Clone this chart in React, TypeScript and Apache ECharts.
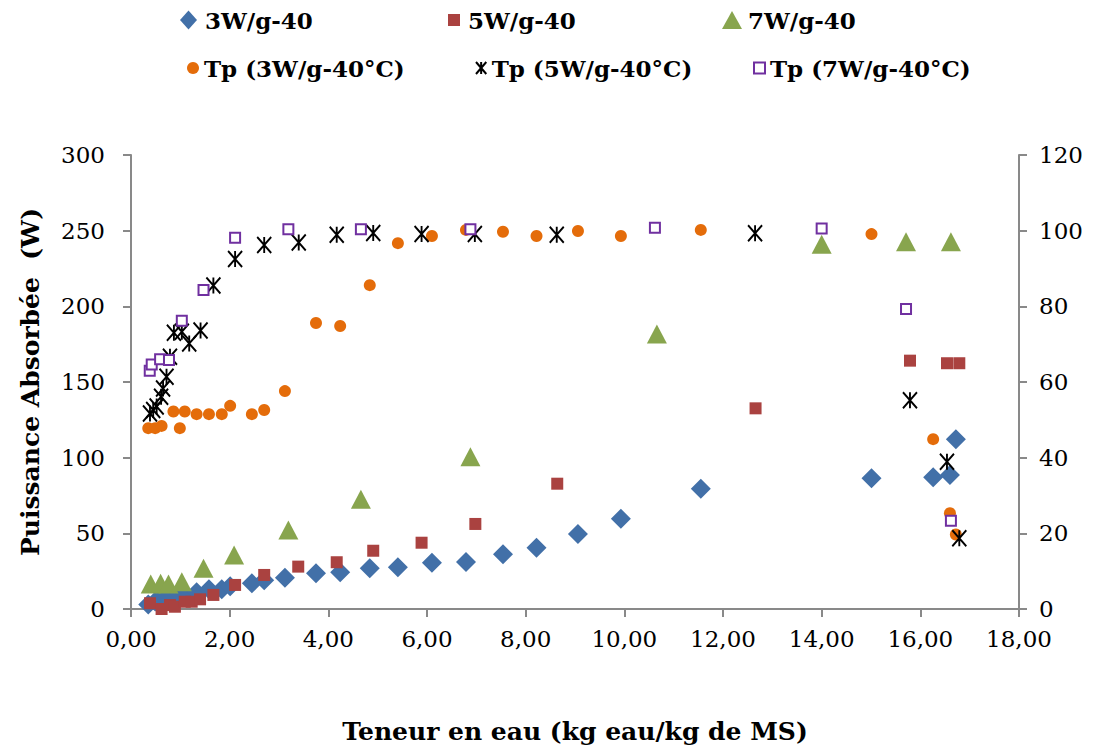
import React, { useEffect, useRef } from "react";
import * as echarts from "echarts";

// ---- Data ----
// 3W/g-40 : puissance absorbée (W) vs teneur en eau
const p3W: [number, number][] = [
  [0.35, 3], [0.49, 5], [0.62, 7], [0.86, 9], [0.99, 10], [1.09, 10],
  [1.33, 11], [1.58, 13], [1.84, 13], [2.01, 15], [2.45, 17], [2.70, 19],
  [3.12, 20.7], [3.75, 23.6], [4.24, 24.3], [4.84, 26.9], [5.41, 27.6],
  [6.10, 30.6], [6.79, 31], [7.54, 36.2], [8.22, 40.5], [9.06, 49.6],
  [9.93, 59.7], [11.55, 79.5], [15.01, 86.4], [16.26, 87], [16.60, 88.6],
  [16.72, 112.2],
];
// 5W/g-40
const p5W: [number, number][] = [
  [0.385, 3.8], [0.62, 0], [0.79, 2.6], [0.89, 1.5], [1.09, 4.8], [1.23, 4.8],
  [1.40, 6.4], [1.67, 9.3], [2.11, 15.9], [2.70, 22.5], [3.39, 28], [4.17, 30.9],
  [4.91, 38.5], [5.89, 43.8], [6.98, 56.2], [8.64, 82.8], [12.66, 132.6],
  [15.79, 164.1], [16.54, 162.4], [16.79, 162.4],
];
// 7W/g-40
const p7W: [number, number][] = [
  [0.40, 16.5], [0.60, 17], [0.76, 16.5], [1.03, 18], [1.47, 26.9], [2.09, 35.7],
  [3.19, 52.2], [4.66, 72.5], [6.88, 100.6], [10.66, 181.7], [14.0, 241],
  [15.71, 242.7], [16.62, 242.7],
];
// Tp (°C) – secondary axis
const tp3W: [number, number][] = [
  [0.35, 47.8], [0.49, 47.8], [0.62, 48.4], [0.86, 52.2], [0.99, 47.8], [1.09, 52.2],
  [1.33, 51.5], [1.58, 51.5], [1.84, 51.5], [2.01, 53.7], [2.45, 51.5], [2.70, 52.6],
  [3.12, 57.6], [3.75, 75.6], [4.24, 74.8], [4.84, 85.6], [5.41, 96.7], [6.10, 98.6],
  [6.79, 100.2], [7.54, 99.7], [8.22, 98.6], [9.06, 99.9], [9.93, 98.6], [11.55, 100.2],
  [15.01, 99.1], [16.26, 44.9], [16.60, 25.3], [16.72, 19.7],
];
const tp5W: [number, number][] = [
  [0.385, 51.7], [0.45, 52.6], [0.52, 53.5], [0.61, 56.1], [0.65, 58.3], [0.72, 61.4],
  [0.79, 66.7], [0.87, 73.0], [1.03, 73.3], [1.18, 70.2], [1.41, 73.6], [1.67, 85.5],
  [2.11, 92.5], [2.70, 96.2], [3.40, 96.9], [4.17, 98.9], [4.91, 99.4], [5.89, 99.1],
  [6.97, 99.1], [8.63, 98.9], [12.65, 99.3], [15.79, 55.2], [16.54, 38.9], [16.79, 18.7],
];
const tp7W: [number, number][] = [
  [0.38, 63.0], [0.42, 64.6], [0.59, 66.0], [0.77, 65.8], [1.03, 76.2], [1.47, 84.3],
  [2.11, 98.1], [3.19, 100.4], [4.66, 100.4], [6.88, 100.4], [10.62, 100.8],
  [14.0, 100.6], [15.71, 79.3], [16.62, 23.3],
];

const seriesNames = [
  "3W/g-40", "5W/g-40", "7W/g-40",
  "Tp (3W/g-40°C)", "Tp (5W/g-40°C)", "Tp (7W/g-40°C)",
];
const xTitle = "Teneur en eau (kg eau/kg de MS)";
const yTitle = "Puissance Absorbée  (W)";

const FONT = "DejaVu Serif";
const AXIS_COLOR = "#898989";
const STAR = "path://M0,0L12,14M12,0L0,14M6,0L6,14";

export default function App() {
  const ref = useRef<HTMLDivElement>(null);
  useEffect(() => {
    if (!ref.current) return;
    const chart = echarts.init(ref.current, undefined, { renderer: "svg" });
    const legendText = { fontFamily: FONT, fontWeight: "bold", fontSize: 23, color: "#000", lineHeight: 28 };
    const mkLegend = (name: string, left: number, top: number, w: number, h: number, pad: number) => ({
      data: [name],
      left,
      top,
      itemWidth: w,
      itemHeight: h,
      selectedMode: false,
      textStyle: { ...legendText, padding: [0, 0, 0, pad] },
    });
    chart.setOption({
      animation: false,
      backgroundColor: "#fff",
      legend: [
        mkLegend(seriesNames[0], 175, 1, 17, 19, 3),
        mkLegend(seriesNames[1], 443, 1, 12, 12, 3),
        mkLegend(seriesNames[2], 717, 1, 20, 18, 1),
        mkLegend(seriesNames[3], 182, 49, 12, 12, 0),
        mkLegend(seriesNames[4], 470, 49, 11, 12, 0),
        mkLegend(seriesNames[5], 748, 49, 11, 11, 0),
      ],
      grid: { left: 131, right: 81, top: 155, bottom: 140, containLabel: false },
      xAxis: {
        type: "value",
        min: 0,
        max: 18,
        interval: 2,
        name: xTitle,
        nameLocation: "middle",
        nameGap: 110,
        nameTextStyle: { fontFamily: FONT, fontWeight: "bold", fontSize: 25, color: "#000" },
        axisLine: { show: true, onZero: false, lineStyle: { color: AXIS_COLOR, width: 2 } },
        axisTick: { show: true, inside: false, length: 8, lineStyle: { color: AXIS_COLOR, width: 2 } },
        axisLabel: {
          fontFamily: FONT, fontSize: 23, color: "#000", margin: 18,
          formatter: (v: number) => v.toFixed(2).replace(".", ","),
        },
        splitLine: { show: false },
      },
      yAxis: [
        {
          type: "value",
          min: 0,
          max: 300,
          interval: 50,
          position: "left",
          name: yTitle,
          nameLocation: "middle",
          nameGap: 88,
          nameTextStyle: { fontFamily: FONT, fontWeight: "bold", fontSize: 25, color: "#000" },
          axisLine: { show: true, lineStyle: { color: AXIS_COLOR, width: 2 } },
          axisTick: { show: true, inside: false, length: 8, lineStyle: { color: AXIS_COLOR, width: 2 } },
          axisLabel: { fontFamily: FONT, fontSize: 23, color: "#000", margin: 26 },
          splitLine: { show: false },
        },
        {
          type: "value",
          min: 0,
          max: 120,
          interval: 20,
          position: "right",
          axisLine: { show: true, lineStyle: { color: AXIS_COLOR, width: 2 } },
          axisTick: { show: true, inside: false, length: 8, lineStyle: { color: AXIS_COLOR, width: 2 } },
          axisLabel: { fontFamily: FONT, fontSize: 23, color: "#000", margin: 20 },
          splitLine: { show: false },
        },
      ],
      series: [
        {
          name: seriesNames[0], type: "scatter", data: p3W, yAxisIndex: 0,
          symbol: "diamond", symbolSize: 20,
          itemStyle: { color: "#4270A8", opacity: 1 },
        },
        {
          name: seriesNames[1], type: "scatter", data: p5W, yAxisIndex: 0,
          symbol: "rect", symbolSize: 12,
          itemStyle: { color: "#AA4240", opacity: 1 },
        },
        {
          name: seriesNames[2], type: "scatter", data: p7W, yAxisIndex: 0,
          symbol: "triangle", symbolSize: [20, 19],
          itemStyle: { color: "#88A54E", opacity: 1 },
        },
        {
          name: seriesNames[3], type: "scatter", data: tp3W, yAxisIndex: 1,
          symbol: "circle", symbolSize: 12,
          itemStyle: { color: "#E46C0A", opacity: 1 },
        },
        {
          name: seriesNames[4], type: "scatter", data: tp5W, yAxisIndex: 1,
          symbol: STAR, symbolSize: [14, 16],
          itemStyle: { color: "transparent", borderColor: "#000", borderWidth: 2, opacity: 1 },
        },
        {
          name: seriesNames[5], type: "scatter", data: tp7W, yAxisIndex: 1,
          symbol: "rect", symbolSize: 10,
          itemStyle: { color: "#fff", borderColor: "#7030A0", borderWidth: 2, opacity: 1 },
        },
      ],
    });
    return () => chart.dispose();
  }, []);
  return (
    <div
      ref={ref}
      style={{ position: "fixed", left: 0, top: 0, width: 1100, height: 749, background: "#fff" }}
    />
  );
}
